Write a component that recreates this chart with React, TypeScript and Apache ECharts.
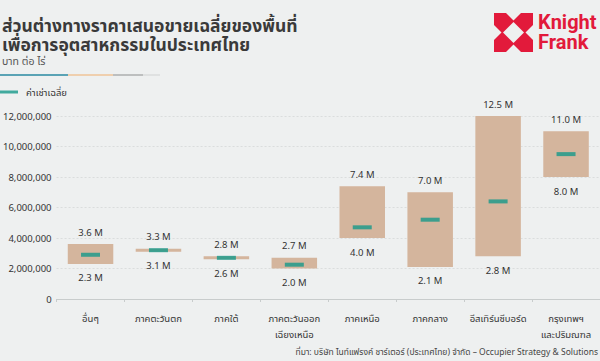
import React, { useEffect, useRef } from "react";
import * as echarts from "echarts";

const categories = [
  "อื่นๆ",
  "ภาคตะวันตก",
  "ภาคใต้",
  "ภาคตะวันออก\nเฉียงเหนือ",
  "ภาคเหนือ",
  "ภาคกลาง",
  "อีสเทิร์นซีบอร์ด",
  "กรุงเทพฯ\nและปริมณฑล",
];
const lowValues = [2300000, 3100000, 2600000, 2000000, 4000000, 2100000, 2800000, 8000000];
const highValues = [3600000, 3300000, 2800000, 2700000, 7400000, 7000000, 12500000, 11000000];
const avgValues = [2900000, 3200000, 2700000, 2250000, 4700000, 5200000, 6400000, 9500000];
const yMin = 0;
const yMax = 12000000;
const yInterval = 2000000;

const titleLines = ["ส่วนต่างทางราคาเสนอขายเฉลี่ยของพื้นที่", "เพื่อการอุตสาหกรรมในประเทศไทย"];
const subtitle = "บาท ต่อ ไร่";
const legendName = "ค่าเช่าเฉลี่ย";
const logoLines = ["Knight", "Frank"];
const sourceText = "ที่มา: บริษัท ไนท์แฟรงค์ ชาร์เตอร์ (ประเทศไทย) จำกัด – Occupier Strategy & Solutions";

const FONT = "'Noto Sans', 'Noto Sans Thai', sans-serif";
const TEXT = "#333333";
const TAN = "#d4b59d";
const TEAL = "#15998a";
const RED = "#e21a3b";
const BG = "#eef0f0";

const fmtM = (v: number) => (v / 1000000).toFixed(1) + " M";

export default function App() {
  const ref = useRef<HTMLDivElement>(null);
  useEffect(() => {
    if (!ref.current) return;
    const chart = echarts.init(ref.current, null, { renderer: "svg" });
    const ranges = highValues.map((h, i) => h - lowValues[i]);
    chart.setOption({
      animation: false,
      backgroundColor: BG,
      textStyle: { fontFamily: FONT },
      grid: { left: 49, right: 0, top: 116, bottom: 62, containLabel: false },
      legend: {
        left: 0,
        top: 87,
        padding: 0,
        itemWidth: 18,
        itemHeight: 3,
        icon: "rect",
        data: [legendName],
        textStyle: { color: TEXT, fontSize: 9.5, fontFamily: FONT, padding: [0, 0, 0, 3] },
      },
      xAxis: {
        type: "category",
        data: categories,
        axisLine: { show: true, lineStyle: { color: "#c8cccc", width: 1 } },
        axisTick: { show: true, length: 3, lineStyle: { color: "#c8cccc" } },
        axisLabel: { interval: 0, color: TEXT, fontSize: 9.5, margin: 11, lineHeight: 16, fontFamily: FONT },
      },
      yAxis: {
        type: "value",
        min: yMin,
        max: yMax,
        interval: yInterval,
        axisLine: { show: false },
        axisTick: { show: false },
        splitLine: { lineStyle: { color: "#dadddd", type: [2, 2], width: 1 } },
        axisLabel: {
          color: TEXT,
          fontSize: 9.5,
          margin: 5,
          fontFamily: FONT,
          formatter: (v: number) => v.toLocaleString("en-US"),
        },
      },
      series: [
        {
          type: "bar",
          name: "low",
          stack: "r",
          data: lowValues,
          barWidth: "67%",
          itemStyle: { color: "transparent" },
          silent: true,
          label: {
            show: true,
            position: "insideTop",
            distance: 9,
            color: TEXT,
            fontSize: 9.5,
            fontFamily: FONT,
            formatter: (p: any) => fmtM(lowValues[p.dataIndex]),
          },
        },
        {
          type: "bar",
          name: "range",
          stack: "r",
          data: ranges,
          barWidth: "67%",
          clip: true,
          itemStyle: { color: TAN },
          label: {
            show: true,
            position: "top",
            distance: 7,
            color: TEXT,
            fontSize: 9.5,
            fontFamily: FONT,
            formatter: (p: any) => fmtM(highValues[p.dataIndex]),
          },
        },
        {
          type: "scatter",
          name: legendName,
          data: avgValues,
          symbol: "rect",
          symbolSize: [19, 4],
          itemStyle: { color: TEAL },
          z: 5,
        },
      ],
      graphic: [
        {
          type: "text",
          left: 2,
          top: 16,
          style: {
            text: titleLines.join("\n"),
            fontSize: 17.5,
            lineHeight: 18.5,
            fontWeight: "bold",
            fill: "#3a3a3a",
            fontFamily: FONT,
          },
        },
        {
          type: "text",
          left: 2,
          top: 55,
          style: { text: subtitle, fontSize: 10.5, lineHeight: 12, fill: "#555555", fontFamily: FONT },
        },
        { type: "rect", shape: { x: 0, y: 74, width: 68, height: 2 }, style: { fill: "#5aa3b5" } },
        { type: "rect", shape: { x: 68, y: 74, width: 45, height: 2 }, style: { fill: "#efcfae" } },
        { type: "rect", shape: { x: 113, y: 74, width: 30, height: 2 }, style: { fill: "#bdbfbf" } },
        { type: "rect", shape: { x: 143, y: 74, width: 17, height: 2 }, style: { fill: "#dfe1e1" } },
        {
          type: "group",
          x: 494,
          y: 13,
          children: [
            { type: "rect", shape: { x: 0, y: 0, width: 39, height: 39 }, style: { fill: RED } },
            { type: "polygon", shape: { points: [[19.5, 9], [30, 19.5], [19.5, 30], [9, 19.5]] }, style: { fill: BG } },
            { type: "polygon", shape: { points: [[12, 0], [27, 0], [19.5, 7.5]] }, style: { fill: BG } },
            { type: "polygon", shape: { points: [[12, 39], [27, 39], [19.5, 31.5]] }, style: { fill: BG } },
            { type: "polygon", shape: { points: [[0, 12], [0, 27], [7.5, 19.5]] }, style: { fill: BG } },
            { type: "polygon", shape: { points: [[39, 12], [39, 27], [31.5, 19.5]] }, style: { fill: BG } },
          ],
        },
        {
          type: "text",
          left: 538,
          top: 12,
          style: {
            text: logoLines.join("\n"),
            fontSize: 20,
            lineHeight: 20,
            fontWeight: "bold",
            fill: RED,
            fontFamily: "Roboto, sans-serif",
          },
        },
        {
          type: "text",
          right: 2,
          top: 346,
          style: { text: sourceText, fontSize: 8.5, lineHeight: 11, fill: "#444444", fontFamily: FONT },
        },
      ],
    });
    return () => chart.dispose();
  }, []);
  return (
    <div
      ref={ref}
      style={{ position: "fixed", left: 0, top: 0, width: 600, height: 361 }}
    />
  );
}
